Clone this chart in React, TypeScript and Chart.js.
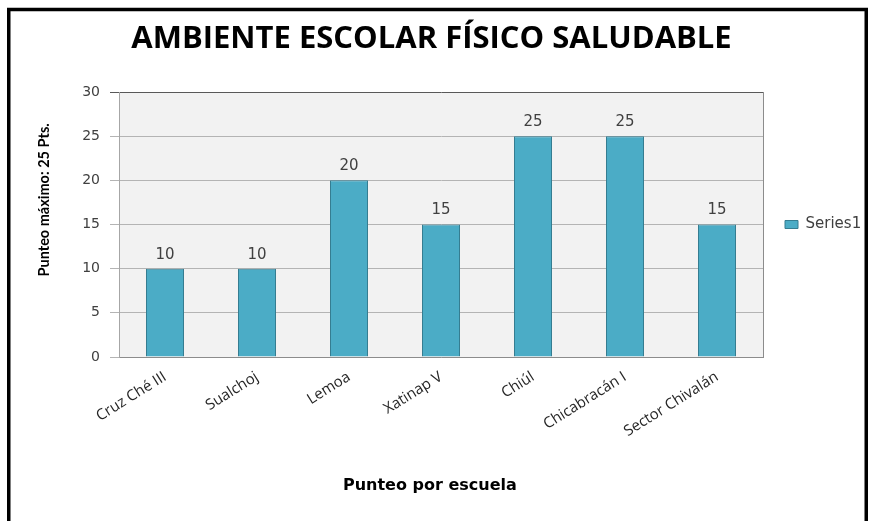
import React, { useEffect, useRef } from "react";
import { Chart, registerables } from "chart.js";

Chart.register(...registerables);

const categories = ["Cruz Ché III", "Sualchoj", "Lemoa", "Xatinap V", "Chiúl", "Chicabracán I", "Sector Chivalán"];
const seriesLabel = "Series1";
const values = [10, 10, 20, 15, 25, 25, 15];
const yTicks = [0, 5, 10, 15, 20, 25, 30];
const chartTitle = "AMBIENTE ESCOLAR FÍSICO SALUDABLE";
const yTitle = "Punteo máximo: 25 Pts.";
const xTitle = "Punteo por escuela";

const W = 874;
const H = 521;

const plotBgPlugin = {
  id: "plotBg",
  beforeDraw(chart: any) {
    const { ctx, chartArea } = chart;
    ctx.save();
    ctx.fillStyle = "#f2f2f2";
    ctx.fillRect(chartArea.left, chartArea.top, chartArea.right - chartArea.left, chartArea.bottom - chartArea.top);
    ctx.restore();
  },
  afterDraw(chart: any) {
    const { ctx, chartArea } = chart;
    ctx.save();
    ctx.strokeStyle = "#8c8c8c";
    ctx.lineWidth = 1;
    ctx.beginPath();
    ctx.moveTo(Math.round(chartArea.right) + 0.5, chartArea.top);
    ctx.lineTo(Math.round(chartArea.right) + 0.5, chartArea.bottom);
    ctx.stroke();
    ctx.strokeStyle = "#000000";
    ctx.lineWidth = 3.5;
    ctx.strokeRect(8.75, 9.5, 857.5, H + 20);
    ctx.restore();
  },
};

const dataLabelPlugin = {
  id: "dataLabels",
  afterDatasetsDraw(chart: any) {
    const { ctx } = chart;
    ctx.save();
    ctx.font = "15px 'DejaVu Sans'";
    ctx.fillStyle = "#404040";
    ctx.textAlign = "center";
    ctx.textBaseline = "middle";
    chart.data.datasets.forEach((ds: any, di: number) => {
      const meta = chart.getDatasetMeta(di);
      meta.data.forEach((el: any, i: number) => {
        ctx.fillText(String(ds.data[i]), el.x, el.y - 14);
      });
    });
    ctx.restore();
  },
};

export default function App() {
  const ref = useRef<HTMLCanvasElement | null>(null);

  useEffect(() => {
    if (!ref.current) return;
    const chart = new Chart(ref.current, {
      type: "bar",
      data: {
        labels: categories,
        datasets: [
          {
            label: seriesLabel,
            data: values,
            backgroundColor: "#4bacc6",
            borderColor: "#357d91",
            borderWidth: 1,
            categoryPercentage: 1,
            barPercentage: 0.413,
          },
        ],
      },
      options: {
        animation: false,
        responsive: false,
        devicePixelRatio: 1,
        layout: { padding: { left: 0, right: 11, top: 0, bottom: 0 } },
        plugins: {
          title: {
            display: true,
            text: chartTitle,
            color: "#000000",
            font: { family: "'Open Sans'", size: 31, weight: "bold", lineHeight: 1.2 },
            padding: { top: 21, bottom: 33.8 },
          },
          legend: {
            display: true,
            position: "right",
            fullSize: false,
            maxWidth: 100,
            labels: {
              boxWidth: 13,
              boxHeight: 8,
              padding: 22,
              color: "#404040",
              font: { family: "DejaVu Sans", size: 15 },
            },
          },
          tooltip: { enabled: false },
        },
        scales: {
          x: {
            grid: { display: false },
            border: { display: true, color: "#8c8c8c", width: 1 },
            ticks: {
              color: "#262626",
              font: { family: "'Open Sans'", size: 15 },
              minRotation: 32,
              maxRotation: 32,
              padding: 3,
            },
            title: {
              display: true,
              text: xTitle + "    ",
              color: "#000000",
              font: { family: "DejaVu Sans", size: 16, weight: "bold", lineHeight: 1.2 },
              padding: { top: 0, bottom: 26 },
            },
            afterFit(scale: any) {
              scale.height = 164;
            },
          },
          y: {
            min: 0,
            max: 30,
            afterBuildTicks(scale: any) {
              scale.ticks = yTicks.map((v) => ({ value: v }));
            },
            grid: {
              color: (c: any) => (c.tick && c.tick.value === 30 ? "#595959" : "#b4b4b4"),
              tickLength: 9,
              lineWidth: 1,
            },
            border: { display: true, color: "#a6a6a6", width: 1 },
            ticks: {
              color: "#404040",
              font: { family: "DejaVu Sans", size: 14 },
              padding: 10,
            },
            title: {
              display: true,
              text: "              " + yTitle,
              color: "#000000",
              font: { family: "'Liberation Sans Narrow', Lato", size: 14.5, weight: "bold", lineHeight: 1.2 },
              padding: { top: 36, bottom: 0 },
            },
            afterFit(scale: any) {
              scale.width = 119;
            },
          },
        },
      },
      plugins: [plotBgPlugin, dataLabelPlugin],
    });
    return () => chart.destroy();
  }, []);

  return (
    <div style={{ position: "absolute", left: 0, top: 0, width: W, height: H }}>
      <canvas ref={ref} width={W} height={H} style={{ width: W, height: H, display: "block" }} />
    </div>
  );
}
